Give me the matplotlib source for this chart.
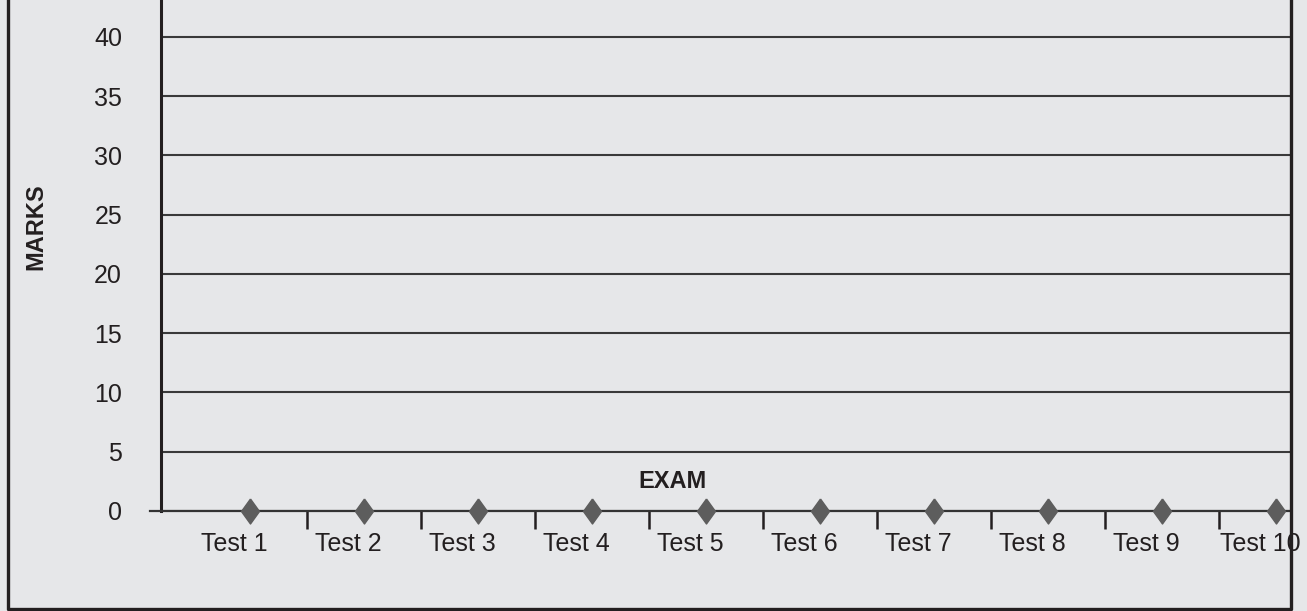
import matplotlib
matplotlib.use('Agg')
import matplotlib.pyplot as plt
from matplotlib.lines import Line2D
import matplotlib.transforms as mtransforms

categories = ['Test 1', 'Test 2', 'Test 3', 'Test 4', 'Test 5',
              'Test 6', 'Test 7', 'Test 8', 'Test 9', 'Test 10']
marks = [0, 0, 0, 0, 0, 0, 0, 0, 0, 0]
y_ticks = [0, 5, 10, 15, 20, 25, 30, 35, 40]

plt.rcParams['font.family'] = ['Liberation Sans', 'DejaVu Sans']
tick_fs, title_fs = 18, 17

W, H = 1307, 611
BG = '#e6e7e9'
DARK = '#231f20'

fig = plt.figure(figsize=(W / 100, H / 100), dpi=100, facecolor=BG)
ax = fig.add_axes([161 / W, 100 / H, 1130 / W, 511 / H])
ax.set_facecolor(BG)

x = list(range(len(categories)))
diamond = [(0, 1), (0.72, 0), (0, -1), (-0.72, 0), (0, 1)]
ax.plot(x, marks, linestyle='none', marker=diamond, markersize=18,
        color='#5d5d5d', clip_on=False, zorder=6)

ax.set_xlim(-0.781, 9.132)
ax.set_ylim(0, 43.1)

for s in ['top', 'right', 'bottom']:
    ax.spines[s].set_visible(False)
ax.spines['left'].set_color(DARK)
ax.spines['left'].set_linewidth(2.2)

ax.axhline(0, xmin=-0.0097, xmax=1, color='#333333', lw=1.6, clip_on=False, zorder=5)

ax.set_yticks(y_ticks)
ax.set_yticklabels([str(v) for v in y_ticks])
ax.yaxis.grid(True, color='#3a3a3a', lw=1.5)
ax.set_axisbelow(True)
ax.tick_params(axis='y', length=0, pad=28, labelsize=tick_fs, labelcolor=DARK)

ax.set_xticks(x)
ax.set_xticklabels(categories)
ax.tick_params(axis='x', which='major', length=0, pad=15, labelsize=tick_fs, labelcolor=DARK)
ax.set_xticks([i + 0.5 for i in range(len(categories) - 1)], minor=True)
ax.tick_params(axis='x', which='minor', length=13, width=1.8, color=DARK, direction='out')

offset = mtransforms.ScaledTranslation(-16 / 100, 0, fig.dpi_scale_trans)
for lbl in ax.get_xticklabels():
    lbl.set_transform(lbl.get_transform() + offset)

ax.text(0.453, 0.057, 'EXAM', transform=ax.transAxes, ha='center', va='center',
        fontsize=title_fs, fontweight='bold', color=DARK)
fig.text(36 / W, 1 - 227 / H, 'MARKS', rotation=90, ha='center', va='center',
         fontsize=title_fs, fontweight='bold', color=DARK)

fig.add_artist(Line2D([7.5 / W, 7.5 / W, 1291 / W, 1291 / W],
                      [1.02, 1 - 608.5 / H, 1 - 608.5 / H, 1.02],
                      transform=fig.transFigure, color=DARK, lw=2.4, clip_on=False))

fig.savefig('out.png', dpi=100, facecolor=BG)
